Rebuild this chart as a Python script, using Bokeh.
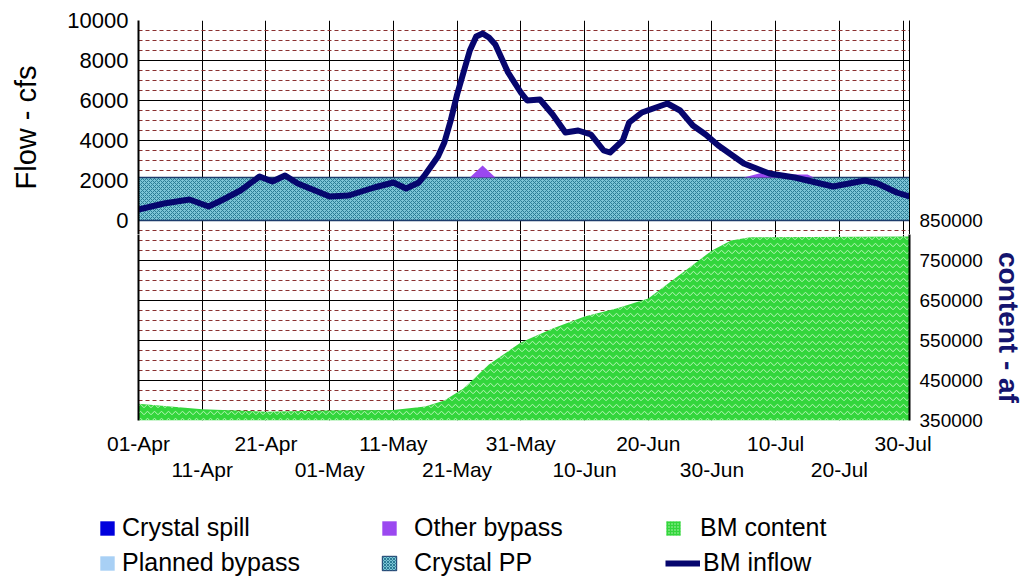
import pandas as pd
from bokeh.plotting import figure
from bokeh.layouts import column
from bokeh.models import (Range1d, LinearAxis, DatetimeAxis, FixedTicker,
                          DatetimeTickFormatter, BasicTickFormatter, Legend, LegendItem)
from bokeh.embed import file_html
from bokeh.resources import INLINE

YEAR = "2010"

# ---------------- data ----------------
inflow_dates = ["04-01", "04-05", "04-09", "04-12", "04-14", "04-17", "04-20", "04-22",
                "04-24", "04-26", "05-01", "05-04", "05-08", "05-11", "05-13", "05-15",
                "05-16", "05-17", "05-18", "05-19", "05-20", "05-21", "05-22", "05-23",
                "05-24", "05-25", "05-26", "05-27", "05-28", "05-29", "05-31", "06-01",
                "06-03", "06-05", "06-07", "06-09", "06-11", "06-13", "06-14", "06-16",
                "06-17", "06-19", "06-23", "06-25", "06-27", "06-29", "07-01", "07-05",
                "07-09", "07-13", "07-19", "07-24", "07-26", "07-29", "07-31"]
inflow_cfs = [550, 850, 1050, 700, 1000, 1500, 2200, 1950,
              2250, 1850, 1200, 1250, 1650, 1900, 1600, 1900,
              2300, 2750, 3200, 3900, 5000, 6300, 7400, 8500,
              9200, 9350, 9150, 8800, 8100, 7400, 6400, 6000,
              6050, 5300, 4400, 4500, 4300, 3500, 3400, 4000,
              4900, 5400, 5850, 5500, 4750, 4300, 3750, 2850,
              2350, 2150, 1700, 2000, 1850, 1400, 1200]

content_dates = ["04-01", "04-06", "04-11", "04-21", "05-01", "05-11", "05-16", "05-19",
                 "05-22", "05-26", "05-31", "06-05", "06-10", "06-15", "06-20", "06-25",
                 "06-30", "07-03", "07-06", "07-31"]
content_af = [392000, 385000, 378000, 372000, 375000, 376000, 385000, 400000,
              430000, 490000, 545000, 580000, 610000, 630000, 655000, 715000,
              775000, 800000, 808000, 810000]

pp_dates = ["04-01", "07-31"]
crystal_pp_cfs = [2150, 2150]
crystal_spill_cfs = [0, 0]
planned_bypass_cfs = [0, 0]

bypass_dates = ["04-01", "05-23", "05-25", "05-27", "07-05", "07-08", "07-11", "07-15", "07-16", "07-31"]
other_bypass_cfs = [0, 0, 600, 0, 0, 250, 150, 150, 0, 0]

tick_labels_row1 = ["01-Apr", "21-Apr", "11-May", "31-May", "20-Jun", "10-Jul", "30-Jul"]
tick_labels_row2 = ["11-Apr", "01-May", "21-May", "10-Jun", "30-Jun", "20-Jul"]
flow_ticks = [0, 2000, 4000, 6000, 8000, 10000]
content_ticks = [350000, 450000, 550000, 650000, 750000, 850000]

series_labels = ["Crystal spill", "Planned bypass", "Other bypass", "Crystal PP", "BM content", "BM inflow"]


def to_dt(mmdd):
    return pd.to_datetime([f"{YEAR}-{d}" for d in mmdd])


def lab_to_ms(labels):
    d = pd.to_datetime([f"{l}-{YEAR}" for l in labels], format="%d-%b-%Y")
    return [int(v) // 10**6 for v in d.asi8]


x_inflow = to_dt(inflow_dates)
x_content = to_dt(content_dates)
x_pp = to_dt(pp_dates)
x_bp = to_dt(bypass_dates)

pp_base = [0 for _ in crystal_pp_cfs]
spill_top = [a + b for a, b in zip(crystal_pp_cfs, crystal_spill_cfs)]
planned_top = [a + b for a, b in zip(spill_top, planned_bypass_cfs)]
bp_base = [planned_top[0] for _ in other_bypass_cfs]
bp_top = [b + v for b, v in zip(bp_base, other_bypass_cfs)]
content_base = [content_ticks[0] for _ in content_af]

FONT = "Liberation Sans"
PP_FILL, PP_HATCH = "#7cc5d6", "#2b7c95"
GREEN_FILL, GREEN_HATCH = "#33d63c", "#b8f5b8"
PURPLE = "#9b48f0"
SPILL = "#0000dd"
PLANNED = "#a8d0f5"
NAVY = "#06066e"
MINOR = "#8a3030"

# Two stacked panels sharing one scale (20 px per 1000 cfs = 20 px per 50000 af).
PX_PER_CFS = 20 / 1000
PX_PER_AF = 20 / 50000
TOP_PX, SEAM_PX, BOTTOM_PX = 20, 234, 420
flow_lo = flow_ticks[0] - (SEAM_PX - TOP_PX - (flow_ticks[-1] - flow_ticks[0]) * PX_PER_CFS) / PX_PER_CFS
af_hi = content_ticks[0] + (BOTTOM_PX - SEAM_PX) / PX_PER_AF
af_top_hi = content_ticks[-1] + (flow_ticks[-1] - flow_ticks[0]) * PX_PER_CFS / PX_PER_AF

start_ms = lab_to_ms(["01-Apr"])[0]
end_ms = int(pd.Timestamp(f"{YEAR}-07-31").value // 10**6)
xr = Range1d(start_ms, end_ms)
row1_ms = lab_to_ms(tick_labels_row1)
row2_ms = lab_to_ms(tick_labels_row2)
all_ms = sorted(row1_ms + row2_ms)


def base_fig(height, yr, top, bottom):
    f = figure(width=1026, height=height, x_axis_type="datetime", x_range=xr, y_range=yr,
               x_axis_location=None, y_axis_location=None,
               output_backend="svg", toolbar_location=None,
               min_border_left=138, min_border_right=114, min_border_top=top,
               min_border_bottom=bottom)
    f.background_fill_color = "white"
    f.border_fill_color = "white"
    f.outline_line_color = None
    f.xgrid.ticker = FixedTicker(ticks=all_ms)
    f.xgrid.grid_line_color = "black"
    f.ygrid.grid_line_color = "black"
    f.ygrid.minor_grid_line_color = MINOR
    f.ygrid.minor_grid_line_dash = "4 3"
    return f


def style_axis(ax, size, standoff):
    ax.major_tick_line_color = None
    ax.minor_tick_line_color = None
    ax.major_tick_out = 0
    ax.minor_tick_out = 0
    ax.major_label_standoff = standoff
    ax.major_label_text_font = FONT
    ax.major_label_text_font_size = size
    ax.major_label_text_color = "black"


# ---------------- upper panel: flow (cfs) ----------------
top = base_fig(SEAM_PX, Range1d(flow_lo, flow_ticks[-1]), TOP_PX, 0)
top.extra_y_ranges = {"content": Range1d(content_ticks[-1] - (0 - flow_lo) * PX_PER_CFS / PX_PER_AF, af_top_hi)}
top.ygrid.ticker = FixedTicker(ticks=flow_ticks, minor_ticks=list(range(-500, 10001, 500)))

ya = LinearAxis(ticker=FixedTicker(ticks=flow_ticks), formatter=BasicTickFormatter(use_scientific=False))
style_axis(ya, "22px", 10)
ya.axis_line_color = "black"
ya.axis_line_width = 2
ya.axis_label = "Flow - cfs"
ya.axis_label_text_font = FONT
ya.axis_label_text_font_size = "29px"
ya.axis_label_text_font_style = "normal"
ya.axis_label_text_color = "black"
ya.axis_label_standoff = 22
top.add_layout(ya, "left")

ra_top = LinearAxis(y_range_name="content", ticker=FixedTicker(ticks=content_ticks[-1:]),
                    formatter=BasicTickFormatter(use_scientific=False))
style_axis(ra_top, "19px", 10)
ra_top.axis_line_color = "black"
ra_top.axis_line_width = 1
top.add_layout(ra_top, "right")

top.varea(x=x_pp, y1=pp_base, y2=crystal_pp_cfs, fill_color=PP_FILL,
          hatch_pattern="diagonal_cross", hatch_color=PP_HATCH, hatch_scale=4, hatch_weight=1)
top.line(x=x_pp, y=crystal_pp_cfs, line_color="#1c3c6c", line_width=1.5)
top.line(x=x_pp, y=pp_base, line_color="#1c3c6c", line_width=1.5)
top.varea(x=x_pp, y1=crystal_pp_cfs, y2=spill_top, fill_color=SPILL)
top.varea(x=x_pp, y1=spill_top, y2=planned_top, fill_color=PLANNED)
top.varea(x=x_bp, y1=bp_base, y2=bp_top, fill_color=PURPLE)
top.line(x=x_inflow, y=inflow_cfs, line_color=NAVY, line_width=6,
         line_join="round", line_cap="round")

# ---------------- lower panel: BM content (af) ----------------
low = base_fig(579 - 79 - SEAM_PX, Range1d(content_ticks[0], af_hi), 0, 80)
low.ygrid.ticker = FixedTicker(ticks=content_ticks,
                               minor_ticks=list(range(content_ticks[0], content_ticks[-1] + 1, 25000)))

la = LinearAxis(ticker=FixedTicker(ticks=[]))
style_axis(la, "1px", 0)
la.axis_line_color = "black"
la.axis_line_width = 2
low.add_layout(la, "left")

ra = LinearAxis(ticker=FixedTicker(ticks=content_ticks[:-1]), formatter=BasicTickFormatter(use_scientific=False))
style_axis(ra, "19px", 10)
ra.axis_line_color = "black"
ra.axis_line_width = 2
ra.axis_label = "content - af"
ra.axis_label_orientation = "vertical"
ra.axis_label_text_font = FONT
ra.axis_label_text_font_size = "28px"
ra.axis_label_text_font_style = "bold"
ra.axis_label_text_color = "#14146e"
ra.axis_label_standoff = 7
low.add_layout(ra, "right")

fmt = DatetimeTickFormatter(days="%d-%b", months="%d-%b", years="%d-%b", hours="%d-%b",
                            strip_leading_zeros=False)
xa = DatetimeAxis(ticker=FixedTicker(ticks=row1_ms), formatter=fmt)
style_axis(xa, "21px", 11)
xa.axis_line_color = None
low.add_layout(xa, "below")
xa2 = DatetimeAxis(ticker=FixedTicker(ticks=row2_ms), formatter=fmt)
style_axis(xa2, "21px", 0)
xa2.axis_line_color = None
low.add_layout(xa2, "below")

low.varea(x=x_content, y1=content_base, y2=content_af,
          fill_color=GREEN_FILL, hatch_pattern="horizontal_wave",
          hatch_color=GREEN_HATCH, hatch_scale=7, hatch_weight=1)

# ---------------- legend panel ----------------
lf = figure(width=1026, height=79, x_range=Range1d(0, 1), y_range=Range1d(0, 1),
            x_axis_location=None, y_axis_location=None, min_border=0,
            output_backend="svg", toolbar_location=None)
try:
    lf.frame_align = False
except Exception:
    pass
lf.grid.visible = False
lf.outline_line_color = None
lf.background_fill_color = "white"
lf.border_fill_color = "white"

z = dict(left=[0], right=[0], top=[0], bottom=[0])
g_spill = lf.quad(**z, fill_color=SPILL, line_color=None)
g_planned = lf.quad(**z, fill_color=PLANNED, line_color=None)
g_bp = lf.quad(**z, fill_color=PURPLE, line_color=None)
g_pp = lf.quad(**z, fill_color=PP_FILL, hatch_pattern="diagonal_cross", hatch_color=PP_HATCH,
               hatch_scale=3, hatch_weight=1, line_color="#1c3c6c", line_width=1)
g_content = lf.quad(**z, fill_color=GREEN_FILL, hatch_pattern="dot", hatch_color=GREEN_HATCH,
                    hatch_scale=3, line_color=None)
g_inflow = lf.line(x=[0], y=[0], line_color=NAVY, line_width=6)


def make_legend(items, loc, gw=18, standoff=6):
    lg = Legend(items=[LegendItem(label=l, renderers=[r]) for l, r in items], location=loc,
                orientation="vertical", glyph_width=gw, glyph_height=18, label_standoff=standoff,
                spacing=6, padding=0, margin=0, border_line_color=None, background_fill_alpha=0,
                label_text_font=FONT, label_text_font_size="25px", label_text_color="black")
    lf.add_layout(lg)
    return lg


make_legend([(series_labels[0], g_spill), (series_labels[1], g_planned)], (98, 2))
make_legend([(series_labels[2], g_bp), (series_labels[3], g_pp)], (380, 2), standoff=16)
make_legend([(series_labels[4], g_content)], (664, 37), standoff=18)
make_legend([(series_labels[5], g_inflow)], (665, 2), gw=35, standoff=3)

open("out.html", "w").write(file_html(column(top, low, lf, spacing=0), INLINE))
